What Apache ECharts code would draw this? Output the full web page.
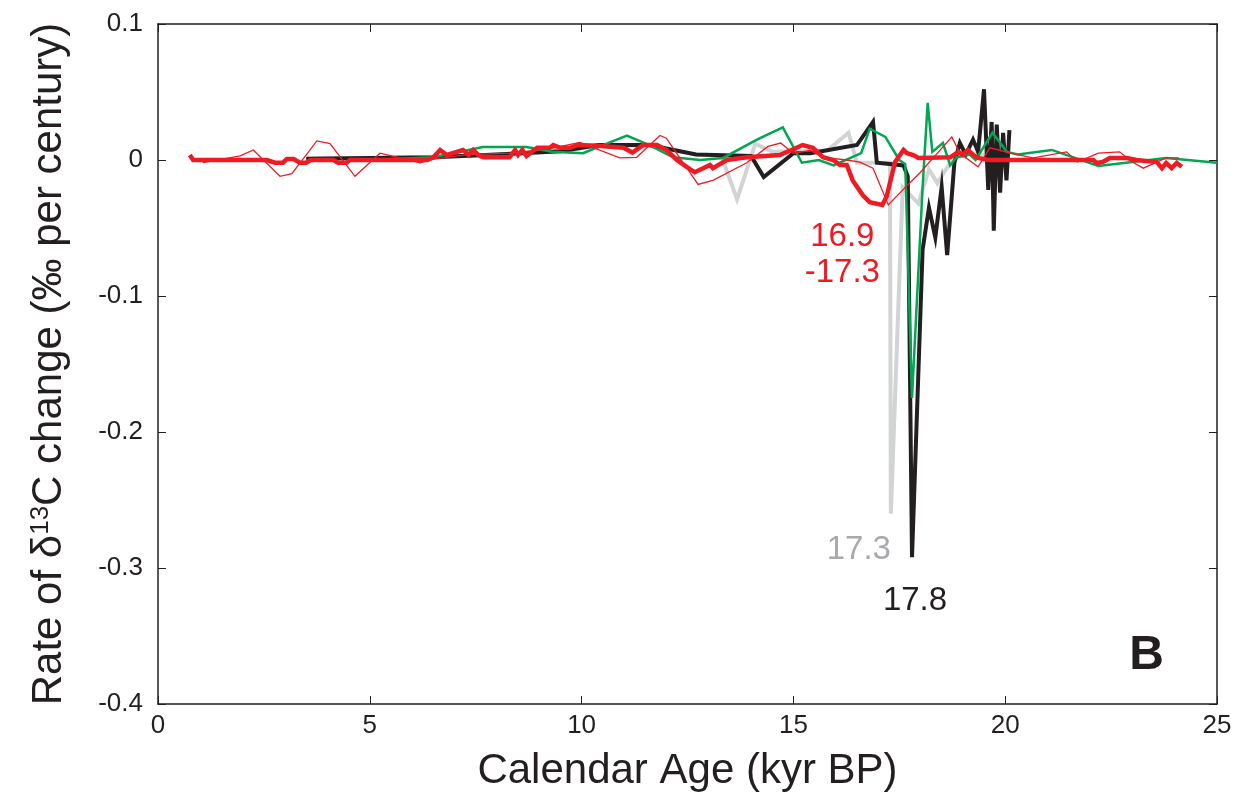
<!DOCTYPE html>
<html>
<head>
<meta charset="utf-8">
<title>Rate of δ13C change</title>
<script src="https://cdn.jsdelivr.net/npm/echarts@6/dist/echarts.min.js"></script>
<style>
  html, body { margin: 0; padding: 0; background: #ffffff; }
  #chart { width: 1241px; height: 804px; }
</style>
</head>
<body>
<div id="chart"></div>
<script>
// Tick values and labels
const xTicks = [0, 5, 10, 15, 20, 25];
const yTicks = [0.1, 0, -0.1, -0.2, -0.3, -0.4];
const yTickLabels = ['0.1', '0', '-0.1', '-0.2', '-0.3', '-0.4'];

// Rate of δ13C change (‰ per century) against calendar age (kyr BP)
const grayRecord = [
  [3.5, 0.001], [5.0, 0.0015], [6.5, 0.002], [8.0, 0.004], [9.5, 0.0065], [10.4, 0.0105],
  [11.6, 0.0105], [12.7, 0.004], [13.3, 0.003], [13.67, -0.029], [14.1, 0.012], [14.5, 0.006],
  [15.8, 0.007], [16.3, 0.02], [16.5, -0.002], [17.28, -0.002], [17.3, -0.26], [17.58, -0.02],
  [17.95, -0.032], [18.2, -0.007], [18.4, -0.017], [18.6, -0.007], [18.75, 0.0], [19.1, 0.005],
  [19.5, 0.004], [20.0, 0.003]
];

const blackRecord = [
  [3.5, 0.001], [5.0, 0.0015], [6.5, 0.002], [8.0, 0.004], [9.5, 0.0065], [10.4, 0.011],
  [11.6, 0.011], [12.7, 0.004], [14.0, 0.003], [14.3, -0.0125], [15.0, 0.005], [15.4, 0.005],
  [16.5, 0.011], [16.88, 0.028], [16.97, -0.002], [17.6, -0.004], [17.7, -0.012], [17.8, -0.292],
  [18.05, -0.066], [18.2, -0.035], [18.35, -0.057], [18.5, -0.02], [18.63, -0.07], [18.8, -0.002],
  [18.93, 0.0125], [19.07, 0.004], [19.24, 0.015], [19.36, 0.006], [19.5, 0.052], [19.6, -0.022],
  [19.68, 0.028], [19.73, -0.052], [19.8, 0.026], [19.88, -0.024], [19.95, 0.02], [20.03, -0.015],
  [20.1, 0.022]
];

const greenRecord = [
  [5.0, 0.0], [6.5, 0.002], [7.67, 0.0095], [8.7, 0.0095], [9.3, 0.006], [10.03, 0.005],
  [11.07, 0.018], [11.6, 0.011], [12.16, 0.002], [12.8, 0.0], [13.34, 0.0015], [14.14, 0.015],
  [14.75, 0.024], [15.2, -0.002], [15.6, 0.0], [15.95, -0.004], [16.6, 0.005], [16.8, 0.023],
  [17.17, 0.017], [17.5, 0.0], [17.64, -0.003], [17.8, -0.175], [18.05, -0.02], [18.17, 0.042],
  [18.28, 0.006], [18.53, 0.0125], [18.7, -0.004], [18.85, 0.002], [19.17, 0.004], [19.3, 0.0],
  [19.7, 0.02], [20.04, 0.006], [20.3, 0.004], [21.1, 0.0074], [22.2, -0.0044], [23.8, 0.0015],
  [25.0, -0.002]
];

const redThinRecord = [
  [1.06, -0.002], [1.94, 0.003], [2.25, 0.0074], [2.88, -0.012], [3.16, -0.01], [3.75, 0.014],
  [4.06, 0.012], [4.65, -0.012], [5.24, 0.005], [6.19, -0.002], [6.5, 0.0007], [7.3, 0.004],
  [8.3, 0.005], [9.2, 0.008], [9.96, 0.013], [10.9, 0.0015], [11.3, 0.002], [11.85, 0.018],
  [12.0, 0.016], [12.75, -0.018], [13.1, -0.015], [13.9, -0.002], [14.4, 0.01], [14.7, 0.0125],
  [15.0, 0.005], [15.4, 0.007], [15.7, 0.002], [16.26, 0.0], [16.57, -0.0015], [16.88, -0.006],
  [17.24, -0.033], [17.52, -0.024], [18.0, -0.009], [18.74, 0.017], [18.93, 0.005], [19.36, -0.005],
  [19.64, 0.009], [20.28, 0.004], [20.66, 0.0015], [21.45, 0.006], [21.7, -0.0015], [22.2, 0.005],
  [22.7, 0.006], [23.0, -0.0015], [23.26, -0.006], [23.8, 0.0015], [24.1, 0.0015]
];

const redThickRecord = [
  [0.75, 0.0037], [0.83, 0.0], [2.57, 0.0], [2.76, -0.002], [2.95, -0.002], [3.04, 0.0007],
  [3.2, 0.0007], [3.35, -0.002], [3.5, -0.002], [3.6, 0.0], [4.14, 0.0], [4.25, -0.002],
  [4.45, -0.002], [4.53, 0.0], [6.35, 0.0], [6.5, 0.002], [6.66, 0.0074], [6.82, 0.0037],
  [7.2, 0.0074], [7.33, 0.0037], [7.44, 0.0074], [7.56, 0.0037], [7.67, 0.002], [8.3, 0.002],
  [8.43, 0.0074], [8.5, 0.0037], [8.6, 0.0074], [8.7, 0.003], [8.95, 0.009], [9.25, 0.009],
  [9.33, 0.011], [9.5, 0.009], [9.73, 0.009], [9.9, 0.011], [10.36, 0.0105], [10.99, 0.009],
  [11.2, 0.0055], [11.45, 0.011], [11.78, 0.011], [12.0, 0.0074], [12.25, 0.0], [12.48, -0.005],
  [12.67, -0.009], [12.87, -0.006], [13.03, -0.0037], [13.1, -0.006], [13.43, 0.0], [13.9, 0.002],
  [14.68, 0.0037], [15.22, 0.011], [15.46, 0.009], [15.7, 0.002], [15.94, 0.0], [16.1, -0.0037],
  [16.26, -0.0037], [16.4, -0.015], [16.64, -0.026], [16.8, -0.031], [17.1, -0.033], [17.2, -0.027],
  [17.4, -0.0015], [17.6, 0.0074], [17.68, 0.005], [17.83, 0.0037], [17.95, 0.0015], [18.7, 0.002],
  [18.9, 0.006], [19.0, 0.0037], [19.12, 0.0074], [19.24, 0.0037], [19.36, 0.0015], [19.6, 0.0],
  [22.08, 0.0], [22.16, -0.0022], [22.3, -0.0015], [22.47, 0.0015], [22.87, 0.0015], [23.1, 0.0],
  [23.58, -0.0015], [23.7, -0.006], [23.8, -0.0022], [23.93, -0.006], [24.05, -0.0022], [24.17, -0.005]
];

const INK = '#231f20';
const FONT = '"Liberation Sans", Arial, Helvetica, sans-serif';

const chart = echarts.init(document.getElementById('chart'), null, { renderer: 'canvas' });

const frameAxisX = {
  type: 'value', min: 0, max: 25, interval: 5,
  axisLine: { show: true, onZero: false, lineStyle: { color: INK, width: 1.5 } },
  axisTick: { show: true, inside: true, length: 8, lineStyle: { color: INK, width: 1 } },
  splitLine: { show: false }
};
const frameAxisY = {
  type: 'value', min: -0.4, max: 0.1, interval: 0.1,
  axisLine: { show: true, onZero: false, lineStyle: { color: INK, width: 1.5 } },
  axisTick: { show: true, inside: true, length: 8, lineStyle: { color: INK, width: 1 } },
  splitLine: { show: false }
};

function lineSeries(name, data, color, width, z, extra) {
  return Object.assign({
    name: name,
    type: 'line',
    data: data,
    xAxisIndex: 0,
    yAxisIndex: 0,
    symbol: 'none',
    lineStyle: { color: color, width: width, join: 'miter', miterLimit: 10 },
    z: z,
    silent: true,
    clip: true
  }, extra || {});
}

function pointLabel(coord, text, color, offset) {
  return {
    coord: coord,
    symbol: 'circle',
    symbolSize: 0,
    label: {
      show: true, position: 'inside', formatter: text, offset: offset,
      color: color, fontFamily: FONT, fontSize: 33, lineHeight: 36, align: 'center'
    }
  };
}

const grayMin = grayRecord.reduce((a, b) => (b[1] < a[1] ? b : a));
const blackMin = blackRecord.reduce((a, b) => (b[1] < a[1] ? b : a));
const redMin = redThickRecord.reduce((a, b) => (b[1] < a[1] ? b : a));

chart.setOption({
  animation: false,
  backgroundColor: '#ffffff',
  grid: { left: 158, right: 24, top: 24, bottom: 100, containLabel: false },
  xAxis: [
    Object.assign({}, frameAxisX, {
      position: 'bottom',
      name: 'Calendar Age (kyr BP)',
      nameLocation: 'middle',
      nameGap: 46,
      nameTextStyle: { color: INK, fontFamily: FONT, fontSize: 42 },
      axisLabel: {
        show: true, margin: 9, color: INK, fontFamily: FONT, fontSize: 26,
        formatter: v => (xTicks.indexOf(v) >= 0 ? String(v) : '')
      }
    }),
    Object.assign({}, frameAxisX, { position: 'top', axisLabel: { show: false } })
  ],
  yAxis: [
    Object.assign({}, frameAxisY, {
      position: 'left',
      name: 'Rate of δ{sup|13}C change (‰ per century)',
      nameLocation: 'middle',
      nameGap: 88,
      nameRotate: 90,
      nameTextStyle: {
        color: INK, fontFamily: FONT, fontSize: 42,
        rich: { sup: { fontSize: 26, verticalAlign: 'top', color: INK, fontFamily: FONT, padding: [0, 0, 16, 0] } }
      },
      axisLabel: {
        show: true, margin: 15, color: INK, fontFamily: FONT, fontSize: 26,
        formatter: v => {
          const i = yTicks.findIndex(t => Math.abs(t - v) < 1e-9);
          return i >= 0 ? yTickLabels[i] : '';
        }
      }
    }),
    Object.assign({}, frameAxisY, { position: 'right', axisLabel: { show: false } })
  ],
  series: [
    lineSeries('gray', grayRecord, '#d1d3d4', 4, 1, {
      markPoint: { silent: true, data: [pointLabel([grayMin[0], grayMin[1]], grayMin[0].toFixed(1), '#a7a9ac', [-32, 36])] }
    }),
    lineSeries('black', blackRecord, INK, 4, 2, {
      markPoint: { silent: true, data: [pointLabel([blackMin[0], blackMin[1]], blackMin[0].toFixed(1), INK, [3, 44])] }
    }),
    lineSeries('green', greenRecord, '#00a651', 2.5, 3),
    lineSeries('redThin', redThinRecord, '#ed1c24', 1.3, 4),
    lineSeries('redThick', redThickRecord, '#ed1c24', 4.5, 5, {
      markPoint: { silent: true, data: [pointLabel([redMin[0], redMin[1]], '16.9\n-17.3', '#ed1c24', [-40, 50])] }
    })
  ],
  graphic: [
    {
      type: 'text', right: 77, bottom: 124,
      style: { text: 'B', fill: INK, font: 'bold 48px ' + FONT }
    }
  ]
});
</script>
</body>
</html>
